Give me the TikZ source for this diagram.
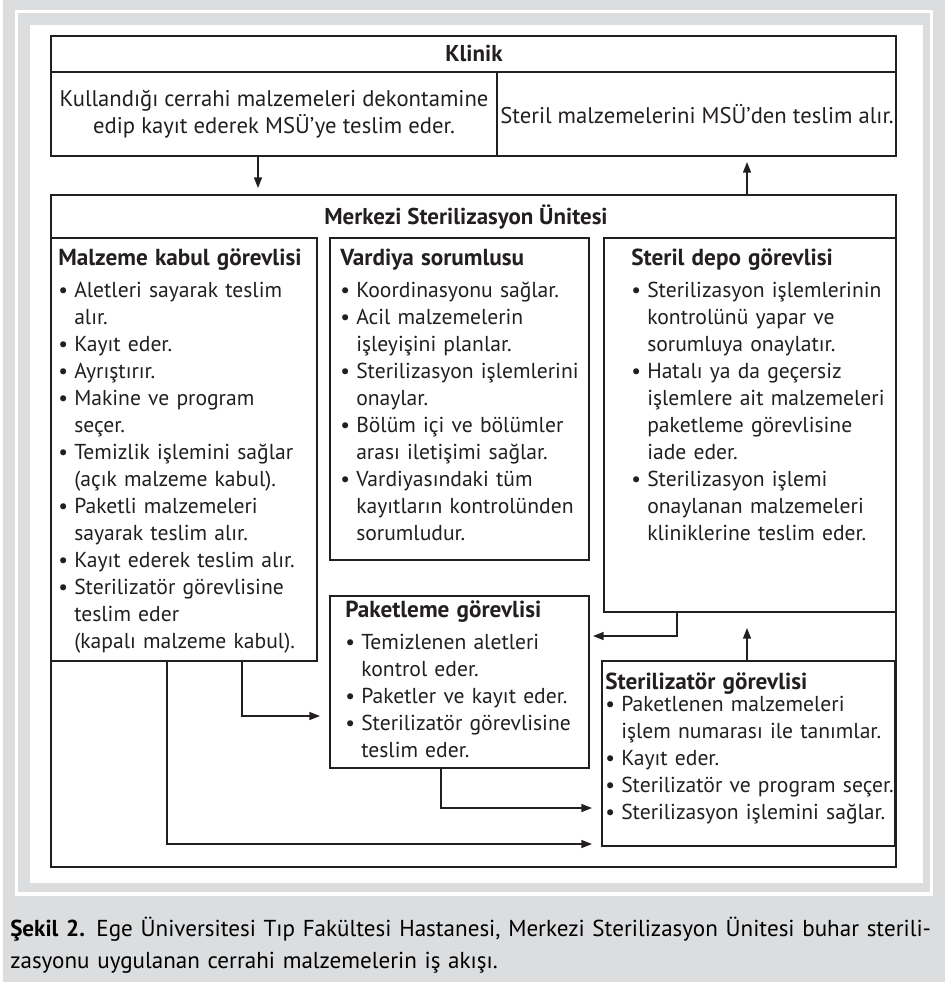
\documentclass[tikz,border=0pt]{standalone}
\usepackage{fontspec}
\setmainfont{PT Sans}
\usetikzlibrary{arrows.meta,calc}
\definecolor{MSUGray}{HTML}{DCDDDF}
\definecolor{MSUInk}{HTML}{231F20}
\newcommand{\itemdot}{\makebox[12pt][l]{\textbullet}}
\newcommand{\itemgap}{\hspace*{12pt}}
\newcommand{\boxhead}[1]{{\bfseries\fontsize{17.4}{20.25}\selectfont #1}}

\begin{document}
\begin{tikzpicture}[x=0.75pt,y=-0.75pt,line join=miter,
  box/.style={draw=MSUInk,line width=1.2pt,anchor=north west,inner sep=0pt,outer sep=0pt},
  txt/.style={anchor=base west,inner sep=0pt,align=left,text width=260pt,text=MSUInk,
    font=\fontsize{16.2}{20.25}\selectfont},
  title/.style={inner sep=0pt,text=MSUInk,font=\bfseries\fontsize{17.2}{20.25}\selectfont},
  arr/.style={-{Triangle[length=8pt,width=6pt]},draw=MSUInk,line width=1.1pt}]
  \useasboundingbox (0,0) rectangle (945,982);
  % page background and frame
  \fill[white] (0,0) rectangle (945,982);
  \fill[MSUGray] (3,0) rectangle (945,982);
  \draw[white,line width=2.4pt] (16.5,11.5) rectangle (931.5,894);
  \fill[white] (30,25) rectangle (923,883);

  % Klinik
  \node[box,minimum width=845*0.75pt,minimum height=120*0.75pt] (klinik) at (51,36) {};
  \draw[MSUInk,line width=1.2pt] ($(klinik.north west)+(0,36)$) -- ($(klinik.north east)+(0,36)$);
  \draw[MSUInk,line width=1.2pt] ($(klinik.north west)+(446,36)$) -- ($(klinik.south west)+(446,0)$);
  \node[title] (kltitle) at (474,54) {Klinik};
  \node[inner sep=0pt,align=center,text=MSUInk,font=\fontsize{17}{20.25}\selectfont] (klleft) at (274,114)
    {Kullandığı cerrahi malzemeleri dekontamine\\edip kayıt ederek MSÜ’ye teslim eder.};
  \node[inner sep=0pt,text=MSUInk,font=\fontsize{17}{20.25}\selectfont] (klright) at (697,114)
    {Steril malzemelerini MSÜ’den teslim alır.};

  % Merkezi Sterilizasyon Ünitesi
  \node[box,minimum width=845*0.75pt,minimum height=672*0.75pt] (msu) at (51,195) {};
  \node[title] (msutitle) at (466,217) {Merkezi Sterilizasyon Ünitesi};
  \node[box,minimum width=266*0.75pt,minimum height=423*0.75pt] (malz) at (51,238) {};
  \node[box,minimum width=259*0.75pt,minimum height=322*0.75pt] (vard) at (330,238) {};
  \node[box,minimum width=292*0.75pt,minimum height=374*0.75pt] (depo) at (604,238) {};
  \node[box,minimum width=259*0.75pt,minimum height=172*0.75pt] (pak) at (330,596) {};
  \node[box,minimum width=293*0.75pt,minimum height=185*0.75pt] (ster) at (602,661) {};

  \node[txt] (malztext) at (58,265) {\boxhead{Malzeme kabul görevlisi}\\[3.75pt]
    \itemdot Aletleri sayarak teslim\\
    \itemgap alır.\\
    \itemdot Kayıt eder.\\
    \itemdot Ayrıştırır.\\
    \itemdot Makine ve program\\
    \itemgap seçer.\\
    \itemdot Temizlik işlemini sağlar\\
    \itemgap (açık malzeme kabul).\\
    \itemdot Paketli malzemeleri\\
    \itemgap sayarak teslim alır.\\
    \itemdot Kayıt ederek teslim alır.\\
    \itemdot Sterilizatör görevlisine\\
    \itemgap teslim eder\\
    \itemgap (kapalı malzeme kabul).};
  \node[txt] (vardtext) at (340,265) {\boxhead{Vardiya sorumlusu}\\[3.75pt]
    \itemdot Koordinasyonu sağlar.\\
    \itemdot Acil malzemelerin\\
    \itemgap işleyişini planlar.\\
    \itemdot Sterilizasyon işlemlerini\\
    \itemgap onaylar.\\
    \itemdot Bölüm içi ve bölümler\\
    \itemgap arası iletişimi sağlar.\\
    \itemdot Vardiyasındaki tüm\\
    \itemgap kayıtların kontrolünden\\
    \itemgap sorumludur.};
  \node[txt] (depotext) at (631,265) {\boxhead{Steril depo görevlisi}\\[3.75pt]
    \itemdot Sterilizasyon işlemlerinin\\
    \itemgap kontrolünü yapar ve\\
    \itemgap sorumluya onaylatır.\\
    \itemdot Hatalı ya da geçersiz\\
    \itemgap işlemlere ait malzemeleri\\
    \itemgap paketleme görevlisine\\
    \itemgap iade eder.\\
    \itemdot Sterilizasyon işlemi\\
    \itemgap onaylanan malzemeleri\\
    \itemgap kliniklerine teslim eder.};
  \node[txt] (paktext) at (345,617) {\boxhead{Paketleme görevlisi}\\[3.75pt]
    \itemdot Temizlenen aletleri\\
    \itemgap kontrol eder.\\
    \itemdot Paketler ve kayıt eder.\\
    \itemdot Sterilizatör görevlisine\\
    \itemgap teslim eder.};
  \node[txt] (stertext) at (605,689) {\boxhead{Sterilizatör görevlisi}\\[-3.2pt]
    \itemdot Paketlenen malzemeleri\\
    \itemgap işlem numarası ile tanımlar.\\
    \itemdot Kayıt eder.\\
    \itemdot Sterilizatör ve program seçer.\\
    \itemdot Sterilizasyon işlemini sağlar.};

  % flow
  \draw[arr] ($(klinik.south west)+(207,0)$) -- ($(msu.north west)+(207,-7)$);
  \draw[arr] ($(msu.north west)+(696,0)$) -- ($(klinik.south west)+(696,6)$);
  \draw[arr] ($(depo.south west)+(73,0)$) |- ($(pak.north east)+(4,40)$);
  \draw[arr] ($(ster.north west)+(145,0)$) -- ($(depo.south west)+(143,16)$);
  \draw[arr] ($(malz.south west)+(191,0)$) |- ($(pak.north west)+(-10,120)$);
  \draw[arr] ($(pak.south west)+(111,0)$) |- ($(ster.north west)+(-10,147)$);
  \draw[arr] ($(malz.south west)+(116,0)$) |- ($(ster.south west)+(-10,-2)$);

  % caption
  \node[anchor=base west,inner sep=0pt,align=left,text width=700pt,font=\fontsize{17.3}{24}\selectfont] (caption) at (10,936)
    {\textbf{Şekil 2.} Ege Üniversitesi Tıp Fakültesi Hastanesi, Merkezi Sterilizasyon Ünitesi buhar sterili-\\
    zasyonu uygulanan cerrahi malzemelerin iş akışı.};
\end{tikzpicture}
\end{document}
